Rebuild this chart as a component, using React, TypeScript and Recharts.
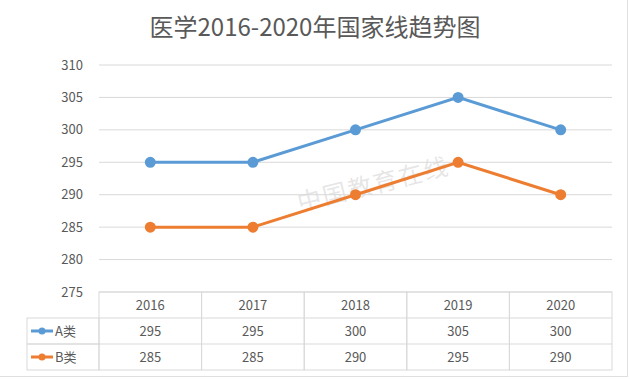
import * as React from "react";
import { LineChart, Line, XAxis, YAxis, CartesianGrid } from "recharts";

const years = ["2016", "2017", "2018", "2019", "2020"];
const aScores = [295, 295, 300, 305, 300];
const bScores = [285, 285, 290, 295, 290];
const yTicks = [275, 280, 285, 290, 295, 300, 305, 310];
const seriesNames = ["A类", "B类"];

const data = years.map((year, i) => ({ year, a: aScores[i], b: bScores[i] }));

const W = 630;
const H = 379;
const PLOT_LEFT = 99;
const PLOT_RIGHT = 18;
const COL_W = (W - PLOT_LEFT - PLOT_RIGHT) / years.length;
const ROW_H = 26;
const LEGEND_W = 72;
const BLUE = "#5B9BD5";
const ORANGE = "#ED7D31";
const GRID = "#d9d9d9";
const TEXT = "#595959";
const FONT = "'Noto Sans CJK SC', 'Noto Sans', sans-serif";

function TableTick(props: any) {
  const { x, y, payload } = props;
  const i = payload.index;
  const left = x - COL_W / 2;
  const rows = [years[i], String(aScores[i]), String(bScores[i])];
  const colors = [BLUE, ORANGE];
  return (
    <g fontFamily={FONT} fontSize={13} fill={TEXT}>
      <rect x={left} y={y} width={COL_W} height={ROW_H * 3} fill="none" stroke={GRID} />
      <line x1={left} x2={left + COL_W} y1={y + ROW_H} y2={y + ROW_H} stroke={GRID} />
      <line x1={left} x2={left + COL_W} y1={y + ROW_H * 2} y2={y + ROW_H * 2} stroke={GRID} />
      {rows.map((t, r) => (
        <text key={r} x={x} y={y + ROW_H * r + ROW_H / 2 + 5} textAnchor="middle">
          {t}
        </text>
      ))}
      {i === 0 &&
        seriesNames.map((name, r) => {
          const ry = y + ROW_H * (r + 1);
          const lx = left - LEGEND_W;
          return (
            <g key={name}>
              <rect x={lx} y={ry} width={LEGEND_W} height={ROW_H} fill="none" stroke={GRID} />
              <line x1={lx + 4} x2={lx + 26} y1={ry + ROW_H / 2} y2={ry + ROW_H / 2} stroke={colors[r]} strokeWidth={3} />
              <circle cx={lx + 15} cy={ry + ROW_H / 2} r={3.5} fill={colors[r]} />
              <text x={lx + 28} y={ry + ROW_H / 2 + 5}>{name}</text>
            </g>
          );
        })}
    </g>
  );
}

export default function App() {
  return (
    <div style={{ position: "absolute", left: 0, top: 0, width: W, height: H, background: "#fff" }}>
      <div
        style={{
          position: "absolute",
          left: 0,
          right: 0,
          top: 9,
          textAlign: "center",
          fontFamily: FONT,
          fontSize: 24,
          lineHeight: "34px",
          color: TEXT,
        }}
      >
        医学2016-2020年国家线趋势图
      </div>
      <div
        style={{
          position: "absolute",
          left: 295,
          top: 165,
          fontFamily: FONT,
          fontSize: 24,
          color: "rgba(200,200,200,0.45)",
          transform: "rotate(-14deg)",
          letterSpacing: 2,
        }}
      >
        中国教育在线
      </div>
      <LineChart width={W} height={H} data={data} margin={{ top: 65, right: PLOT_RIGHT, left: PLOT_LEFT - 40, bottom: 9 }}>
        <CartesianGrid vertical={false} stroke={GRID} />
        <XAxis
          dataKey="year"
          height={78}
          axisLine={false}
          tickLine={false}
          tickSize={0}
          tickMargin={0}
          interval={0}
          padding={{ left: COL_W / 2, right: COL_W / 2 }}
          tick={<TableTick />}
        />
        <YAxis
          width={40}
          domain={[275, 310]}
          ticks={yTicks}
          axisLine={false}
          tickLine={false}
          tickMargin={10}
          tick={{ fill: TEXT, fontSize: 13, fontFamily: FONT }}
        />
        <Line
          dataKey="a"
          stroke={BLUE}
          strokeWidth={3}
          dot={{ r: 4, fill: BLUE, stroke: BLUE }}
          isAnimationActive={false}
        />
        <Line
          dataKey="b"
          stroke={ORANGE}
          strokeWidth={3}
          dot={{ r: 4, fill: ORANGE, stroke: ORANGE }}
          isAnimationActive={false}
        />
      </LineChart>
      <div style={{ position: "absolute", left: 627, top: 0, width: 1, height: 377, background: "#e0e0e0" }} />
      <div style={{ position: "absolute", left: 0, top: 376, width: 628, height: 1, background: "#e0e0e0" }} />
    </div>
  );
}
